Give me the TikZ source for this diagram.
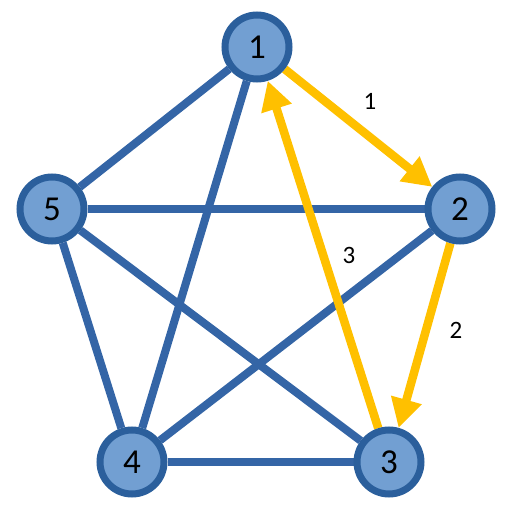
\documentclass[tikz,border=0pt]{standalone}
\usepackage{fontspec}
\setmainfont{Carlito}
\usetikzlibrary{arrows.meta,backgrounds}
\definecolor{nodefill}{HTML}{729FD2}
\definecolor{nodeline}{HTML}{2B5F9C}
\definecolor{edgeblue}{HTML}{3465A6}
\definecolor{gold}{HTML}{FFC000}
\tikzset{
  vert/.style={circle, draw=nodeline, fill=nodefill, line width=7pt, minimum size=64pt, inner sep=0pt, font=\fontsize{35}{35}\selectfont},
  edgeline/.style={draw=edgeblue, line width=8pt},
  pathedge/.style={draw=gold, line width=8.5pt, -{Triangle[length=29pt,width=30pt]}},
  lbl/.style={font=\fontsize{25}{25}\selectfont}
}
\begin{document}
\begin{tikzpicture}[x=1pt,y=-1pt]
\useasboundingbox (0,0) rectangle (523,511);
\node[vert] (n1) at (257,47) {1};
\node[vert] (n2) at (460,209) {2};
\node[vert] (n3) at (389,462) {3};
\node[vert] (n4) at (132,462) {4};
\node[vert] (n5) at (52,209) {5};
\begin{pgfonlayer}{background}
\path[edgeline] (n1) -- (n5);
\path[edgeline] (n1) -- (n4);
\path[edgeline] (n5) -- (n2);
\path[edgeline] (n5) -- (n3);
\path[edgeline] (n5) -- (n4);
\path[edgeline] (n4) -- (n2);
\path[edgeline] (n4) -- (n3);
\path[pathedge] (n1) -- (n2);
\path[pathedge] (n2) -- (n3);
\path[pathedge] (n3) -- (n1);
\end{pgfonlayer}
\node[lbl] (l1) at (370,101) {1};
\node[lbl] (l2) at (456,330) {2};
\node[lbl] (l3) at (349,255) {3};
\end{tikzpicture}
\end{document}
